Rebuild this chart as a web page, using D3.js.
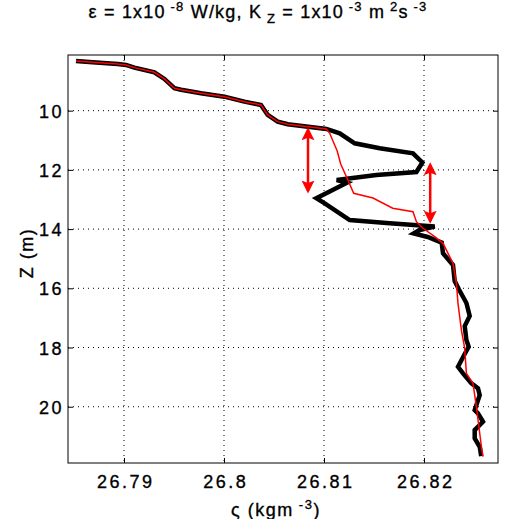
<!DOCTYPE html>
<html>
<head>
<meta charset="utf-8">
<script src="https://cdn.jsdelivr.net/npm/d3@7"></script>
<style>
  body { margin: 0; background: #fff; }
  svg text { font-family: "Liberation Sans", Arial, Helvetica, sans-serif; fill: #000; stroke: #000; stroke-width: 0.35px; }
</style>
</head>
<body>
<svg width="510" height="519"></svg>
<script>
// measured profile (black, thick)
const blackSigma = [26.7852, 26.78687, 26.78937, 26.7902, 26.79104, 26.79304, 26.79404, 26.79504, 26.7957, 26.7977,
    26.80004, 26.80204, 26.8037, 26.80437, 26.80537, 26.80637, 26.81024, 26.81157, 26.81307, 26.81557,
    26.8189, 26.81984, 26.81924, 26.81524, 26.81127, 26.8123, 26.80924, 26.81007, 26.81257, 26.81657,
    26.82107, 26.81957, 26.81897, 26.82037, 26.82177, 26.8219, 26.8229, 26.82307, 26.82347, 26.82424,
    26.82457, 26.82407, 26.82424, 26.82447, 26.82407, 26.8234, 26.8239, 26.82474, 26.8254, 26.82557,
    26.82507, 26.8254, 26.8259, 26.82507, 26.82507, 26.82557, 26.82572];
const blackZ = [8.321, 8.365, 8.422, 8.456, 8.547, 8.703, 8.929, 9.243, 9.291, 9.412,
    9.527, 9.696, 9.807, 10.145, 10.372, 10.459, 10.618, 10.764, 11.101, 11.27,
    11.439, 11.75, 12.071, 12.172, 12.341, 12.432, 12.959, 13.128, 13.693, 13.804,
    13.912, 14.03, 14.149, 14.267, 14.459, 14.818, 15.213, 15.753, 16.024, 16.497,
    16.936, 17.274, 17.747, 17.973, 18.22, 18.649, 18.872, 19.209, 19.378, 19.605,
    20.111, 20.223, 20.507, 20.787, 21.068, 21.351, 21.666];

// sorted / model profile (red, thin)
const redSigma = [26.7852, 26.78687, 26.78937, 26.7902, 26.79104, 26.79304, 26.79404, 26.79504, 26.7957, 26.7977,
    26.80004, 26.80204, 26.8037, 26.80437, 26.80537, 26.80637, 26.81024, 26.81057, 26.81132, 26.81167,
    26.81232, 26.81297, 26.8149, 26.81687, 26.8189, 26.81924, 26.8199, 26.82107, 26.8219, 26.8229,
    26.82324, 26.8234, 26.82374, 26.82407, 26.82424, 26.8249, 26.82524, 26.82574, 26.8259];
const redZ = [8.321, 8.365, 8.422, 8.456, 8.547, 8.703, 8.929, 9.243, 9.291, 9.412,
    9.527, 9.696, 9.807, 10.145, 10.372, 10.459, 10.618, 10.764, 11.361, 11.801,
    12.291, 12.791, 12.949, 13.297, 13.412, 13.75, 13.973, 14.257, 14.48, 15.155,
    15.831, 16.507, 17.409, 18.027, 18.872, 19.209, 20.0, 21.351, 21.682];

// double arrows: sigma position, top and bottom depth
const arrowSigma = [26.8084, 26.82062];
const arrowTop = [10.65, 11.83];
const arrowBottom = [12.71, 13.73];

const xTicks = [26.79, 26.80, 26.81, 26.82];
const xTickLabels = ["26.79", "26.8", "26.81", "26.82"];
const zTicks = [10, 12, 14, 16, 18, 20];

const svg = d3.select("svg");
const box = { left: 68, right: 498, top: 55, bottom: 463 };

const x = d3.scaleLinear().domain([26.7844, 26.8274]).range([box.left, box.right]);
const y = d3.scaleLinear().domain([8.12, 21.9]).range([box.top, box.bottom]);

// grid
const grid = svg.append("g").attr("class", "grid");
grid.selectAll(".gx").data(xTicks).enter().append("line")
    .attr("x1", d => x(d)).attr("x2", d => x(d))
    .attr("y1", box.top).attr("y2", box.bottom);
grid.selectAll(".gy").data(zTicks).enter().append("line")
    .attr("x1", box.left).attr("x2", box.right)
    .attr("y1", d => y(d)).attr("y2", d => y(d));
grid.selectAll("line")
    .attr("stroke", "#000")
    .attr("stroke-width", 1)
    .attr("stroke-dasharray", "1,4");

// axes with inward ticks
const tickFont = g => g.selectAll("text")
    .style("font-size", "18px")
    .style("letter-spacing", "2.5px")
    .attr("fill", "#000");

svg.append("g")
    .attr("transform", `translate(0,${box.bottom})`)
    .call(d3.axisBottom(x).tickValues(xTicks).tickFormat((d, i) => xTickLabels[i])
        .tickSizeInner(-5).tickSizeOuter(0).tickPadding(12))
    .call(g => g.select(".domain").remove())
    .call(tickFont)
    .call(g => g.selectAll("text").attr("dx", "1.25"));

svg.append("g")
    .attr("transform", `translate(0,${box.top})`)
    .call(d3.axisTop(x).tickValues(xTicks).tickFormat("").tickSizeInner(-5).tickSizeOuter(0))
    .call(g => g.select(".domain").remove());

svg.append("g")
    .attr("transform", `translate(${box.left},0)`)
    .call(d3.axisLeft(y).tickValues(zTicks).tickSizeInner(-5).tickSizeOuter(0).tickPadding(4))
    .call(g => g.select(".domain").remove())
    .call(tickFont)
    .call(g => g.selectAll("text").attr("dy", "0.36em"));

svg.append("g")
    .attr("transform", `translate(${box.right},0)`)
    .call(d3.axisRight(y).tickValues(zTicks).tickFormat("").tickSizeInner(-5).tickSizeOuter(0))
    .call(g => g.select(".domain").remove());

svg.selectAll(".tick line").attr("stroke", "#000");

svg.append("rect")
    .attr("x", box.left).attr("y", box.top)
    .attr("width", box.right - box.left).attr("height", box.bottom - box.top)
    .attr("fill", "none").attr("stroke", "#000").attr("stroke-width", 1);

// profiles
const line = d3.line().x(d => x(d[0])).y(d => y(d[1]));

svg.append("path")
    .datum(blackSigma.map((s, i) => [s, blackZ[i]]))
    .attr("d", line)
    .attr("fill", "none")
    .attr("stroke", "#000")
    .attr("stroke-width", 4.5)
    .attr("stroke-linejoin", "miter")
    .attr("stroke-miterlimit", 3);

svg.append("path")
    .datum(redSigma.map((s, i) => [s, redZ[i]]))
    .attr("d", line)
    .attr("fill", "none")
    .attr("stroke", "#ff0000")
    .attr("stroke-width", 1.5);

// double-headed arrows
const defs = svg.append("defs");
defs.append("marker")
    .attr("id", "head")
    .attr("viewBox", "0 0 10 10")
    .attr("refX", 8).attr("refY", 5)
    .attr("markerUnits", "userSpaceOnUse")
    .attr("markerWidth", 13).attr("markerHeight", 13)
    .attr("orient", "auto-start-reverse")
    .append("path")
    .attr("d", "M0,0 L10,5 L0,10 L2,5 Z")
    .attr("fill", "#ff0000");

svg.selectAll(".arrow")
    .data(arrowSigma)
    .enter().append("line")
    .attr("class", "arrow")
    .attr("x1", d => x(d)).attr("x2", d => x(d))
    .attr("y1", (d, i) => y(arrowTop[i]))
    .attr("y2", (d, i) => y(arrowBottom[i]))
    .attr("stroke", "#ff0000")
    .attr("stroke-width", 2.5)
    .attr("marker-start", "url(#head)")
    .attr("marker-end", "url(#head)");

// title: [text, vertical shift, small?]
const title = svg.append("text")
    .attr("x", 258).attr("y", 18)
    .attr("text-anchor", "middle")
    .style("font-size", "18px")
    .style("letter-spacing", "1.2px");
const parts = [
    ["ε = 1x10", 0, false], [" -8", -7, true], [" W/kg, K", 7, false], [" Z", 5, true],
    [" = 1x10", -5, false], [" -3", -7, true], [" m", 7, false], [" 2", -7, true],
    ["s", 7, false], [" -3", -7, true]
];
parts.forEach(([t, dy, small]) => {
    title.append("tspan")
        .attr("dy", dy)
        .style("font-size", small ? "13px" : "18px")
        .text(t);
});

// axis labels
const xl = svg.append("text")
    .attr("x", 276).attr("y", 516)
    .attr("text-anchor", "middle")
    .style("font-size", "18px")
    .style("letter-spacing", "1.5px");
xl.append("tspan").text("ς (kgm");
xl.append("tspan").attr("dy", -7).style("font-size", "13px").text(" -3");
xl.append("tspan").attr("dy", 7).text(")");

svg.append("text")
    .attr("transform", "translate(33,253) rotate(-90)")
    .attr("text-anchor", "middle")
    .style("font-size", "18px")
    .style("letter-spacing", "1.5px")
    .text("Z (m)");
</script>
</body>
</html>
